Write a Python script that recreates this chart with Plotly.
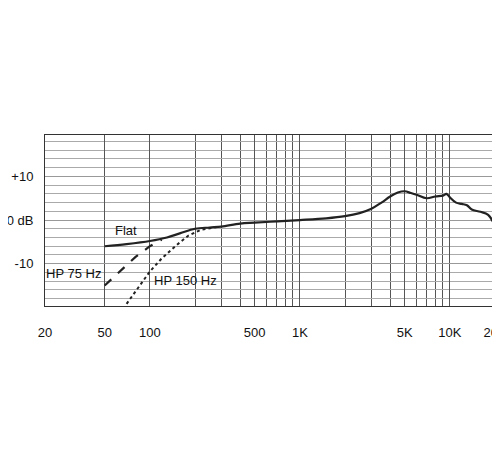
import plotly.graph_objects as go

# frequency response readings (Hz, dB)
flat_f = [50, 70, 100, 130, 160, 200, 250, 300, 400, 500, 700, 1000, 1500, 2000, 2500, 3000, 3500, 4000, 4500, 5000, 5500, 6000, 7000, 8000, 9000, 9500, 10000, 11000, 12000, 13000, 14000, 16000, 18000, 20000]
flat_db = [-6.0, -5.5, -4.8, -4.0, -3.0, -2.0, -1.7, -1.5, -0.8, -0.6, -0.3, 0.0, 0.4, 0.9, 1.6, 2.6, 4.0, 5.4, 6.3, 6.6, 6.2, 5.8, 5.0, 5.4, 5.6, 6.0, 5.2, 4.0, 3.7, 3.4, 2.4, 1.9, 1.2, -1.3]
hp75_f = [50, 60, 70, 80, 100, 120]
hp75_db = [-15.0, -12.5, -10.3, -8.5, -6.0, -4.5]
hp150_f = [70, 80, 100, 120, 150, 180, 220, 280]
hp150_db = [-19.2, -16.5, -11.8, -8.8, -5.8, -3.6, -2.2, -1.6]

x_ticks = [20, 50, 100, 500, 1000, 5000, 10000, 20000]
x_labels = ["20", "50", "100", "500", "1K", "5K", "10K", "20K"]
x_grid = [200, 300, 400, 600, 700, 800, 900, 2000, 3000, 4000, 6000, 7000, 8000, 9000]
y_ticks = [10, 0, -10]
y_labels = ["+10", "0 dB", "-10"]
y_grid = list(range(-18, 20, 2))

fig = go.Figure()
fig.add_trace(go.Scatter(x=flat_f, y=flat_db, mode="lines", line=dict(color="#222", width=2.2, shape="spline")))
fig.add_trace(go.Scatter(x=hp75_f, y=hp75_db, mode="lines", line=dict(color="#222", width=2.2, dash="dash")))
fig.add_trace(go.Scatter(x=hp150_f, y=hp150_db, mode="lines", line=dict(color="#222", width=2, dash="dot")))

fnt = dict(family="Liberation Sans, Arial", size=13, color="#111")
fig.add_annotation(x=1.84, y=-2.3, text="Flat", showarrow=False, font=fnt)
fig.add_annotation(x=1.49, y=-12.3, text="HP 75 Hz", showarrow=False, font=fnt)
fig.add_annotation(x=2.24, y=-13.9, text="HP 150 Hz", showarrow=False, font=fnt)

fig.update_xaxes(type="log", range=[1.30103, 4.30103], tickvals=x_ticks, ticktext=x_labels,
                 ticks="outside", ticklen=14, tickcolor="white", tickfont=fnt, automargin=False,
                 showgrid=True, gridcolor="#555", gridwidth=1,
                 minor=dict(tickvals=x_grid, showgrid=True, gridcolor="#555", gridwidth=1, ticks=""),
                 showline=True, linecolor="#333", mirror=True, zeroline=False)
fig.update_yaxes(range=[-19.7, 19.5], tickvals=y_ticks, ticktext=y_labels,
                 ticks="outside", ticklen=8, tickcolor="white", tickfont=fnt, automargin=False,
                 showgrid=True, gridcolor="#999", gridwidth=1,
                 minor=dict(tickvals=y_grid, showgrid=True, gridcolor="#aaa", gridwidth=1, ticks=""),
                 showline=True, linecolor="#333", mirror=True, zeroline=False)
fig.update_layout(width=500, height=450, margin=dict(l=37, r=13, t=127, b=152),
                  plot_bgcolor="white", paper_bgcolor="white", showlegend=False)
fig.write_html("out.html")
